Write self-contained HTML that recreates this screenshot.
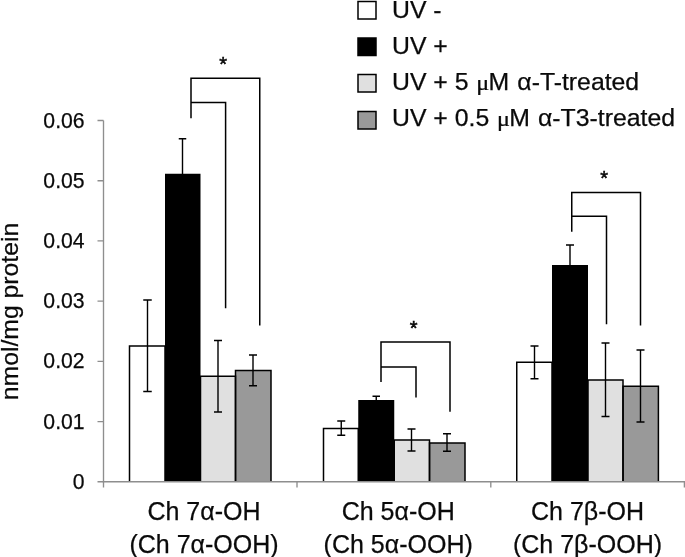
<!DOCTYPE html>
<html lang="en">
<head>
<meta charset="utf-8">
<title>Chart</title>
<style>
html,body{margin:0;padding:0;background:#fff;}
body{width:685px;height:557px;overflow:hidden;}
svg{display:block;filter:grayscale(1);}
text{font-family:"Liberation Sans",Arial,Helvetica,sans-serif;fill:#0a0a0a;stroke:#0a0a0a;stroke-width:0.25px;}
.ax{stroke:#8e8e8e;stroke-width:1.35;fill:none;}
.bo{stroke:#000;stroke-width:1.5;fill:none;}
.lg{stroke:#000;stroke-width:1.5;}
.err{stroke:#000;stroke-width:1.4;fill:none;}
.br{stroke:#000;stroke-width:1.5;fill:none;}
.tick{font-size:21.2px;text-anchor:end;}
.cat{font-size:25px;text-anchor:middle;}
.leg{font-size:24.8px;}
.mu{font-family:"Liberation Serif",serif;font-size:20.5px;}
.star{font-size:20px;text-anchor:middle;stroke:#000;stroke-width:0.5;}
</style>
</head>
<body>
<svg width="685" height="557" viewBox="0 0 685 557">
<rect x="0" y="0" width="685" height="557" fill="#fff"/>

<!-- legend -->
<rect class="lg" x="358" y="1.5" width="18" height="17.5" fill="#fff"/>
<rect class="lg" x="358" y="38" width="18" height="17.5" fill="#000"/>
<rect class="lg" x="358" y="74.5" width="18" height="17.5" fill="#e0e0e0"/>
<rect class="lg" x="358" y="111.5" width="18" height="17.5" fill="#999"/>
<text class="leg" x="392" y="17.5">UV -</text>
<text class="leg" x="392" y="53.8">UV +</text>
<text class="leg" x="392" y="90">UV + 5 <tspan dx="13.2">M</tspan><tspan dx="1.2"> α-T-treated</tspan></text>
<text class="mu" transform="translate(476.2 90) scale(1.18 1)">μ</text>
<text class="leg" x="392" y="126.3">UV + 0.5 <tspan dx="13.2">M</tspan><tspan dx="1.2"> α-T3-treated</tspan></text>
<text class="mu" transform="translate(496.9 126.3) scale(1.18 1)">μ</text>

<!-- y tick labels -->
<text class="tick" x="84.6" y="127.50">0.06</text>
<text class="tick" x="84.6" y="187.71">0.05</text>
<text class="tick" x="84.6" y="247.92">0.04</text>
<text class="tick" x="84.6" y="308.13">0.03</text>
<text class="tick" x="84.6" y="368.34">0.02</text>
<text class="tick" x="84.6" y="428.55">0.01</text>
<text class="tick" x="84.6" y="488.76">0</text>

<!-- y label -->
<text transform="translate(18.3 311.5) rotate(-90)" font-size="24" text-anchor="middle" textLength="177.5" lengthAdjust="spacingAndGlyphs">nmol/mg protein</text>

<!-- group 1 -->
<path class="err" d="M182.5 138.75V178.75M178.75 138.75h7.5"/>
<rect x="129.5" y="346" width="35.50" height="135.75" fill="#fff"/>
<rect x="200.5" y="376.25" width="35.00" height="105.50" fill="#e0e0e0"/>
<rect x="235.5" y="370.5" width="35.50" height="111.25" fill="#999"/>
<path class="bo" d="M129.5 481.75V346H165V481.75"/>
<path class="bo" d="M200.5 481.75V376.25H235.5V481.75"/>
<path class="bo" d="M235.5 481.75V370.5H271V481.75"/>
<rect x="165" y="173.75" width="35.50" height="308.00" fill="#000"/>
<path class="err" d="M147.5 300V391.5M143.25 300h8.5M143.25 391.5h8.5"/>
<path class="err" d="M218 340.5V412M214.0 340.5h8M214.0 412h8"/>
<path class="err" d="M253 355V385.75M249.0 355h8M249.0 385.75h8"/>
<path class="br" d="M191 118.25V78.25H259.75V325.5M191 102.5H225.6V308.25"/>
<text class="star" x="223.2" y="70.8">*</text>
<!-- group 2 -->
<path class="err" d="M376.25 396.25V436.25M372.5 396.25h7.5"/>
<rect x="323.5" y="428.5" width="34.75" height="53.25" fill="#fff"/>
<rect x="394.25" y="440" width="35.25" height="41.75" fill="#e0e0e0"/>
<rect x="429.5" y="443" width="35.50" height="38.75" fill="#999"/>
<path class="bo" d="M323.5 481.75V428.5H358.25V481.75"/>
<path class="bo" d="M394.25 481.75V440H429.5V481.75"/>
<path class="bo" d="M429.5 481.75V443H465V481.75"/>
<rect x="358.25" y="400" width="36.00" height="81.75" fill="#000"/>
<path class="err" d="M341.25 421V435.25M337.25 421h8M337.25 435.25h8"/>
<path class="err" d="M411.5 429V451M407.5 429h8M407.5 451h8"/>
<path class="err" d="M447 433.75V451.25M443.0 433.75h8M443.0 451.25h8"/>
<path class="br" d="M381 382V342H450V411.75M381 367H416V397.5"/>
<text class="star" x="413.6" y="335.3">*</text>
<!-- group 3 -->
<path class="err" d="M570 245V285M566.0 245h8"/>
<rect x="516.75" y="362.25" width="35.25" height="119.50" fill="#fff"/>
<rect x="588" y="380" width="35.00" height="101.75" fill="#e0e0e0"/>
<rect x="623" y="386.25" width="35.40" height="95.50" fill="#999"/>
<path class="bo" d="M516.75 481.75V362.25H552V481.75"/>
<path class="bo" d="M588 481.75V380H623V481.75"/>
<path class="bo" d="M623 481.75V386.25H658.4V481.75"/>
<rect x="552" y="265" width="36.00" height="216.75" fill="#000"/>
<path class="err" d="M534.5 346V378.75M530.5 346h8M530.5 378.75h8"/>
<path class="err" d="M605.5 343V416.5M601.5 343h8M601.5 416.5h8"/>
<path class="err" d="M640.5 350V422M636.5 350h8M636.5 422h8"/>
<path class="br" d="M571.75 231.75V192.5H640.5V325.5M571.75 216.25H606.5V324.25"/>
<text class="star" x="604.2" y="184.8">*</text>

<!-- axes -->
<path class="ax" d="M103.5 120.5V481.75H685"/>
<path class="ax" d="M97.5 120.50H103.5M97.5 180.71H103.5M97.5 240.92H103.5M97.5 301.13H103.5M97.5 361.34H103.5M97.5 421.55H103.5M97.5 481.76H103.5"/>
<path class="ax" d="M103.5 481.75V487.5M297 481.75V487.5M490.8 481.75V487.5M684.4 481.75V487.5"/>

<!-- category labels -->
<text class="cat" x="204" y="519.5">Ch 7α-OH</text>
<text class="cat" x="204" y="553">(Ch 7α-OOH)</text>
<text class="cat" x="398.2" y="519.5">Ch 5α-OH</text>
<text class="cat" x="398.2" y="553">(Ch 5α-OOH)</text>
<text class="cat" x="587.5" y="519.5">Ch 7β-OH</text>
<text class="cat" x="587.5" y="553">(Ch 7β-OOH)</text>
</svg>
</body>
</html>
